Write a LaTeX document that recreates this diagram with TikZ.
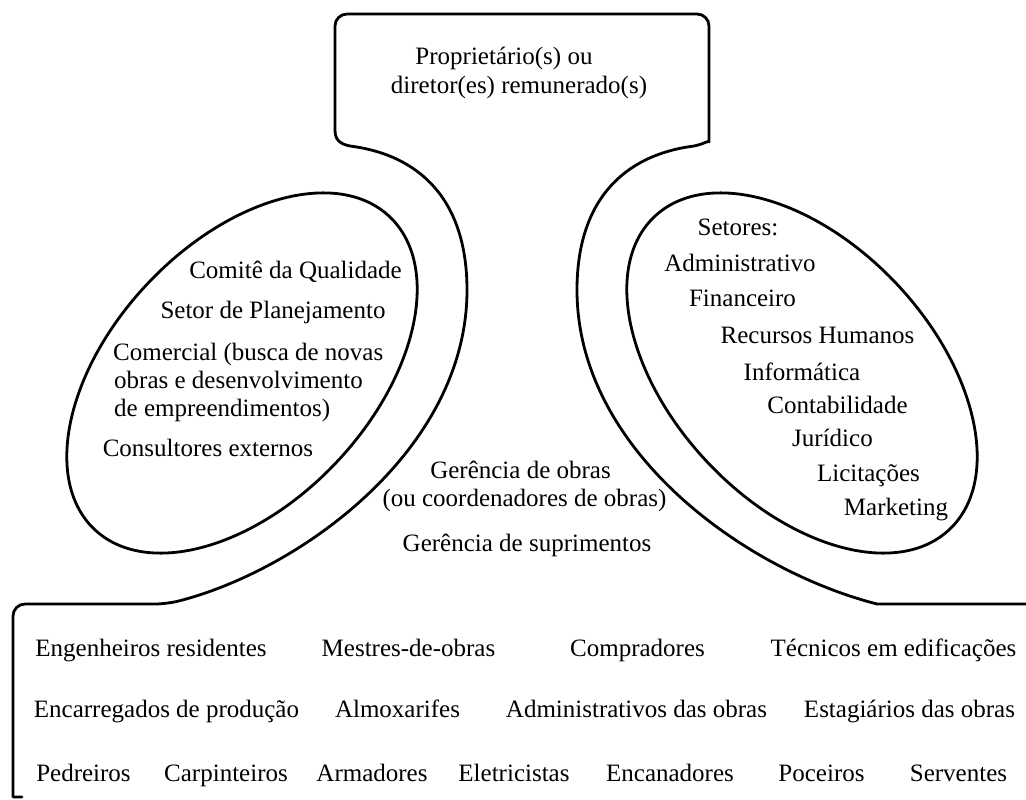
\documentclass[tikz,border=0pt]{standalone}
\usepackage{fontspec}
\setmainfont{Liberation Serif}
\newcommand\lbfont{\fontsize{25}{30}\selectfont}
\begin{document}
\begin{tikzpicture}[x=1pt,y=-1pt]
\tikzset{
  outline/.style={line width=2.8pt, line join=round, line cap=round},
  lbl/.style={anchor=base, inner sep=0pt, font=\lbfont},
  lblw/.style={anchor=base west, inner sep=0pt, font=\lbfont}
}
\useasboundingbox (0,0) rectangle (1026,800);
\fill[white] (0,0) rectangle (1026,800);
% outer outline
\draw[outline] (22,797) -- (13,797) [rounded corners=12pt] -- (13,604) -- (167,604) [sharp corners]
  .. controls (300,570) and (467,450) .. (467,290)
  .. controls (467,200) and (420,155) .. (350,146)
  .. controls (340,144) and (335,140) .. (335,130)
  [rounded corners=12pt] -- (335,14) -- (709,14) -- (709,130) [sharp corners]
  .. controls (709,140) and (704,144) .. (694,146)
  .. controls (624,155) and (577,200) .. (577,290)
  .. controls (577,450) and (744,570) .. (877,604) -- (1030,604);
% ellipses
\draw[outline, rotate around={46.7:(242,373)}] (242,373) ellipse [x radius=215, y radius=130];
\draw[outline, rotate around={-46.7:(802,373)}] (802,373) ellipse [x radius=215, y radius=130];
% top
\node[lbl] (p1) at (504,65) {Proprietário(s) ou};
\node[lbl] (p2) at (519,94) {diretor(es) remunerado(s)};
% left ellipse
\node[lbl] (l1) at (295.5,278) {Comitê da Qualidade};
\node[lbl] (l2) at (273,318) {Setor de Planejamento};
\node[lblw] (l3) at (113,360) {Comercial (busca de novas};
\node[lblw] (l4) at (114,388) {obras e desenvolvimento};
\node[lblw] (l5) at (114,416) {de empreendimentos)};
\node[lbl] (l6) at (208,456) {Consultores externos};
% right ellipse
\node[lbl] (r1) at (738,235) {Setores:};
\node[lbl] (r2) at (740,271) {Administrativo};
\node[lbl] (r3) at (742.5,306) {Financeiro};
\node[lbl] (r4) at (817.5,343) {Recursos Humanos};
\node[lbl] (r5) at (802,380) {Informática};
\node[lbl] (r6) at (837.5,413) {Contabilidade};
\node[lbl] (r7) at (832.5,446) {Jurídico};
\node[lbl] (r8) at (868.5,481) {Licitações};
\node[lbl] (r9) at (896,515) {Marketing};
% center
\node[lbl] (c1) at (520.5,478) {Gerência de obras};
\node[lbl] (c2) at (524.5,506) {(ou coordenadores de obras)};
\node[lbl] (c3) at (527,551) {Gerência de suprimentos};
% bottom rows
\node[lbl] (b11) at (151,656) {Engenheiros residentes};
\node[lbl] (b12) at (408.5,656) {Mestres-de-obras};
\node[lbl] (b13) at (637.5,656) {Compradores};
\node[lbl] (b14) at (893.5,656) {Técnicos em edificações};
\node[lbl] (b21) at (166.5,717) {Encarregados de produção};
\node[lbl] (b22) at (397.5,717) {Almoxarifes};
\node[lbl] (b23) at (636.5,717) {Administrativos das obras};
\node[lbl] (b24) at (909.5,717) {Estagiários das obras};
\node[lbl] (b31) at (83.5,781) {Pedreiros};
\node[lbl] (b32) at (226,781) {Carpinteiros};
\node[lbl] (b33) at (372,781) {Armadores};
\node[lbl] (b34) at (514,781) {Eletricistas};
\node[lbl] (b35) at (670,781) {Encanadores};
\node[lbl] (b36) at (821.5,781) {Poceiros};
\node[lbl] (b37) at (958.5,781) {Serventes};
\end{tikzpicture}
\end{document}
